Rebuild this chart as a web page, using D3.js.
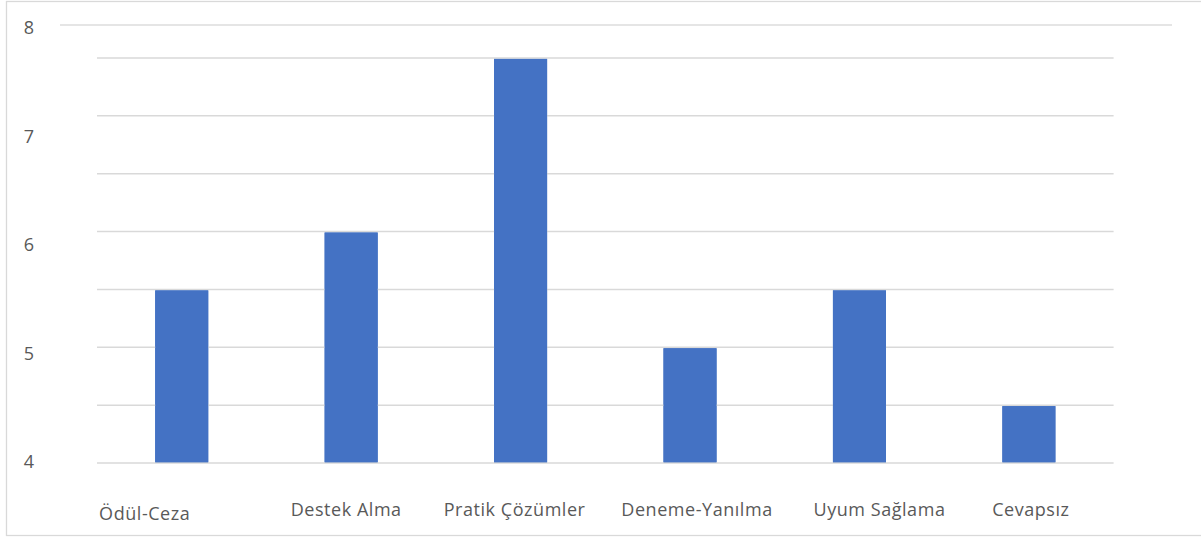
<!DOCTYPE html>
<html>
<head>
<meta charset="utf-8">
<script src="https://cdn.jsdelivr.net/npm/d3@7"></script>
<style>
  html, body { margin: 0; padding: 0; background: #fff; }
  svg { display: block; }
  text { font-family: "Open Sans", "Noto Sans", sans-serif; fill: #595959; }
</style>
</head>
<body>
<svg id="chart" width="1201" height="537"></svg>
<script>
const categories = ["Ödül-Ceza", "Destek Alma", "Pratik Çözümler", "Deneme-Yanılma", "Uyum Sağlama", "Cevapsız"];
const values = [5.5, 6.0, 7.5, 5.0, 5.5, 4.5];
const yTickLabels = [4, 5, 6, 7, 8];
const gridValues = [4, 4.5, 5, 5.5, 6, 6.5, 7, 7.5];

const W = 1201, H = 537;
const svg = d3.select("#chart");

// frame
svg.append("rect").attr("x", 6.5).attr("y", 1.5).attr("width", W + 10).attr("height", 534)
  .attr("fill", "#fff").attr("stroke", "#d9d9d9").attr("stroke-width", 1.3);

const plot = { left: 97, right: 1113.6, top: 0, bottom: 463 };

const x = d3.scaleBand().domain(categories)
  .range([plot.left, plot.right]).paddingInner(0.687).paddingOuter(0.3435);
const y = d3.scaleLinear().domain([4, 8]).range([plot.bottom, plot.top]);
// tick labels sit on their own slightly compressed scale in the reference
const yLab = d3.scaleLinear().domain([4, 8]).range([461, 27]);

// separate top rule line at label "8"
svg.append("line").attr("x1", 60).attr("x2", 1172).attr("y1", 25).attr("y2", 25)
  .attr("stroke", "#dcdcdc").attr("stroke-width", 1.3);

// bars (drawn under the gridlines, top edge sits just below the line)
svg.append("g").selectAll("rect").data(values).join("rect")
  .attr("x", (d, i) => x(categories[i]))
  .attr("width", x.bandwidth())
  .attr("y", d => y(d) + 1)
  .attr("height", d => y(4) - y(d) - 1)
  .attr("fill", "#4472c4");

// gridlines
svg.append("g").selectAll("line").data(gridValues).join("line")
  .attr("x1", plot.left).attr("x2", plot.right)
  .attr("y1", d => y(d)).attr("y2", d => y(d))
  .attr("stroke", "#d9d9d9").attr("stroke-width", 1.5);

// redraw bar bodies over interior gridlines
svg.append("g").selectAll("rect").data(values).join("rect")
  .attr("x", (d, i) => x(categories[i]))
  .attr("width", x.bandwidth())
  .attr("y", d => y(d) + 1)
  .attr("height", d => y(4) - y(d) - 1.8)
  .attr("fill", "#4472c4");

// y tick labels
svg.append("g").selectAll("text").data(yTickLabels).join("text")
  .attr("x", 29).attr("y", d => yLab(d))
  .attr("text-anchor", "middle").attr("dominant-baseline", "central")
  .style("font-size", "18px")
  .text(d => d);

// x labels (reference places them slightly off bar centres)
const labelShift = [-37, -5, -6, 7, 20, 2];
const labelDy = [4, 0, 0, 0, 0, 0];
svg.append("g").selectAll("text").data(categories).join("text")
  .attr("x", (d, i) => x(d) + x.bandwidth() / 2 + labelShift[i])
  .attr("y", (d, i) => 509 + labelDy[i])
  .attr("text-anchor", "middle").attr("dominant-baseline", "central")
  .style("font-size", "18px").style("letter-spacing", "0.55px")
  .text(d => d);
</script>
</body>
</html>
